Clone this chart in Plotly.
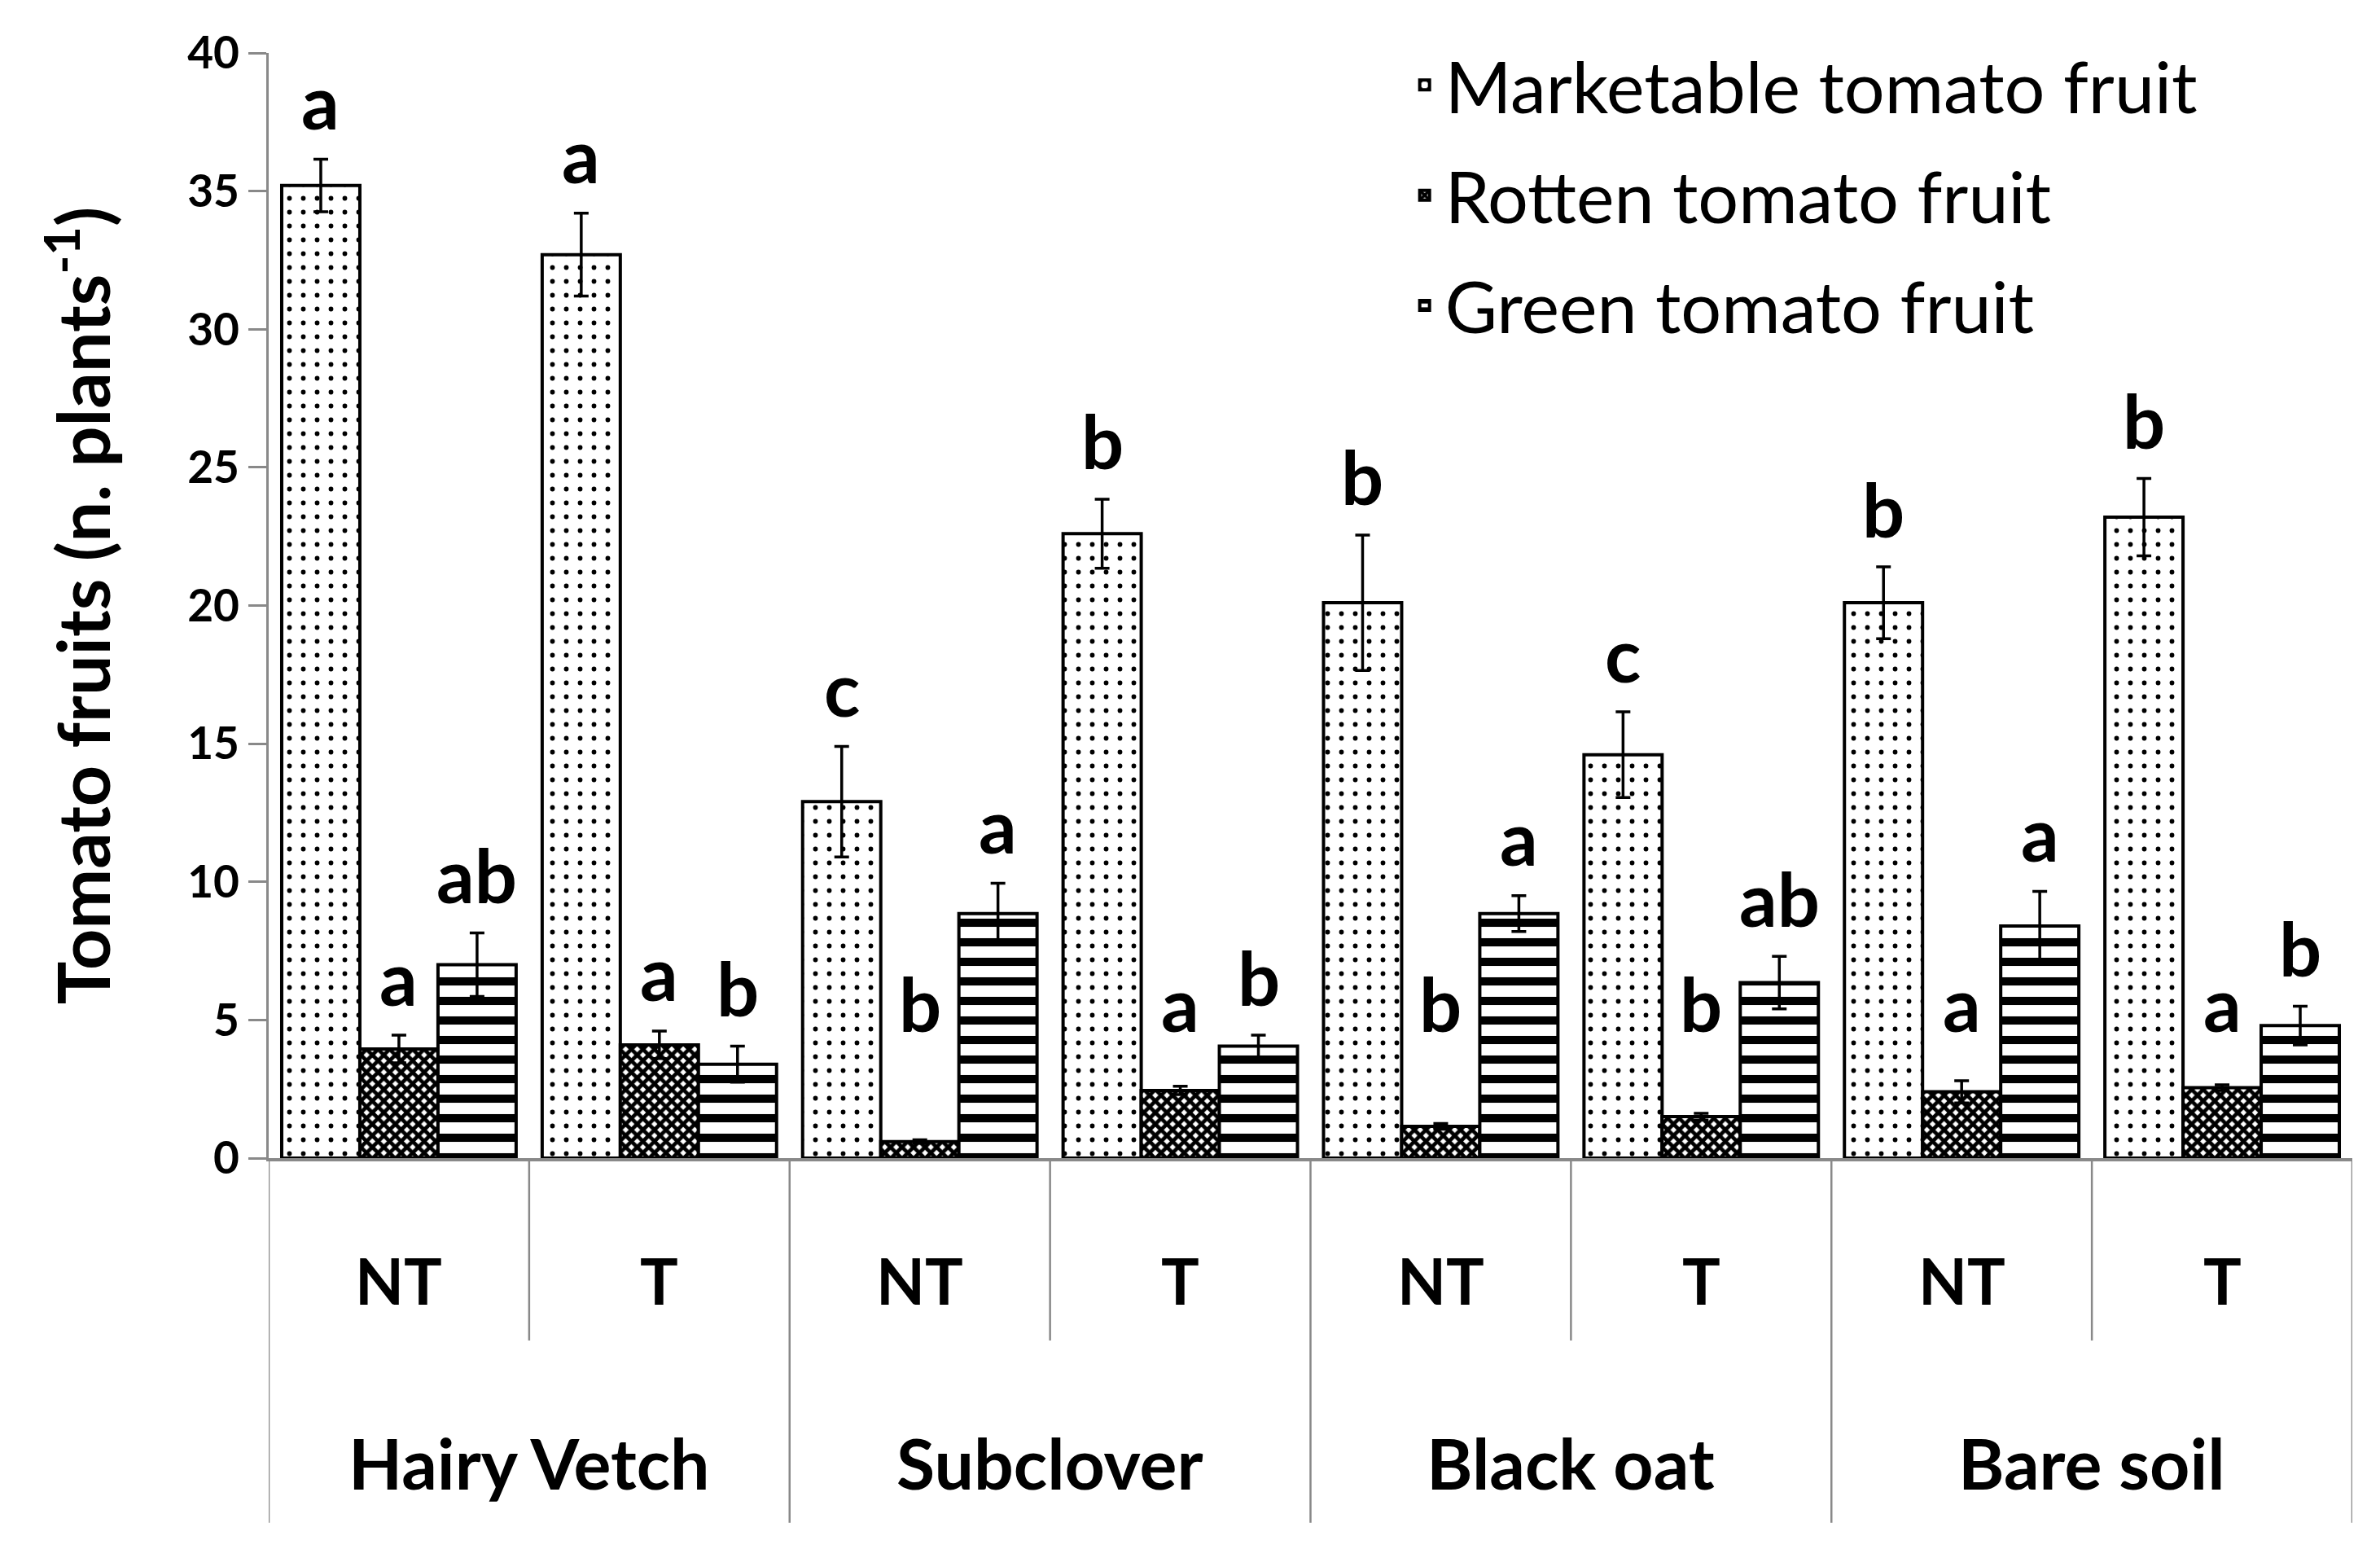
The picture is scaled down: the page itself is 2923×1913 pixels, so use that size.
import plotly.graph_objects as go

# ---------------- data ----------------
cover_crops = ["Hairy Vetch", "Subclover", "Black oat", "Bare soil"]
tillage = ["NT", "T"]
series_names = ["Marketable tomato fruit", "Rotten tomato fruit", "Green tomato fruit"]

marketable = [35.2, 32.7, 12.9, 22.6, 20.1, 14.6, 20.1, 23.2]
marketable_err = [0.95, 1.5, 2.0, 1.25, 2.45, 1.55, 1.3, 1.4]
rotten = [3.95, 4.1, 0.6, 2.45, 1.15, 1.5, 2.4, 2.55]
rotten_err = [0.5, 0.5, 0.06, 0.15, 0.1, 0.12, 0.4, 0.1]
green = [7.0, 3.4, 8.85, 4.05, 8.85, 6.35, 8.4, 4.8]
green_err = [1.15, 0.65, 1.1, 0.4, 0.65, 0.95, 1.25, 0.7]

marketable_letters = ["a", "a", "c", "b", "b", "c", "b", "b"]
rotten_letters = ["a", "a", "b", "a", "b", "b", "a", "a"]
green_letters = ["ab", "b", "a", "b", "a", "ab", "a", "b"]

y_ticks = [0, 5, 10, 15, 20, 25, 30, 35, 40]

# ---------------- build ----------------
categories = [f"{c} {t}" for c in cover_crops for t in tillage]
tick_text = [t for c in cover_crops for t in tillage]

FONT = "Lato"
GRAY = "#898989"
BARGAP = 0.1
N_SERIES = 3
bar_w = (1 - BARGAP) / N_SERIES  # width of one bar in category units

styles = [
    dict(shape=".", size=17, solidity=0.09),
    dict(shape="x", size=10, solidity=0.72),
    dict(shape="-", size=24, solidity=0.42),
]
values = [marketable, rotten, green]
errors = [marketable_err, rotten_err, green_err]
letters = [marketable_letters, rotten_letters, green_letters]

fig = go.Figure()
for i in range(N_SERIES):
    fig.add_trace(go.Bar(
        x=categories, y=values[i], name=series_names[i],
        legendgroup=series_names[i],
        marker=dict(color="white",
                    line=dict(color="black", width=4),
                    pattern=dict(fgcolor="black", bgcolor="white", fillmode="replace",
                                 **styles[i])),
        error_y=dict(type="data", array=errors[i], color="black", thickness=3.5, width=9),
    ))

annotations = []
# significance letters, centred over each bar
for s in range(N_SERIES):
    for k in range(len(categories)):
        top = max(values[s][k] + errors[s][k], 3.5)
        annotations.append(dict(
            x=k + (s - (N_SERIES - 1) / 2) * bar_w, y=top, xref="x", yref="y",
            text=letters[s][k], showarrow=False, yanchor="middle", yshift=72,
            font=dict(family=FONT, size=92, color="black", weight="bold"),
        ))
# inner labels NT/T
for k, t in enumerate(tick_text):
    annotations.append(dict(
        x=k, y=-0.1105, xref="x", yref="paper", text=t, showarrow=False,
        yanchor="middle", font=dict(family=FONT, size=78, color="black", weight="bold")))
# outer labels cover crops
for g, c in enumerate(cover_crops):
    annotations.append(dict(
        x=2 * g + 0.5, y=-0.275, xref="x", yref="paper", text=c, showarrow=False,
        yanchor="middle", font=dict(family=FONT, size=86, color="black", weight="bold")))

# divider lines
shapes = []
n = len(categories)
for j in range(n + 1):
    pos = j - 0.5
    long_line = (j % 2 == 0)
    shapes.append(dict(type="line", xref="x", yref="paper", x0=pos, x1=pos,
                       y0=0, y1=-0.33 if long_line else -0.165,
                       line=dict(color=GRAY, width=2.5)))

fig.update_layout(
    width=2923, height=1913,
    margin=dict(l=330, r=34, t=65, b=491, autoexpand=False),
    paper_bgcolor="white", plot_bgcolor="white",
    barmode="group", bargap=BARGAP, bargroupgap=0,
    showlegend=True,
    legend=dict(x=0.545, y=1.018, xanchor="left", yanchor="top",
                font=dict(family=FONT, size=88, color="black"),
                tracegroupgap=18, bgcolor="rgba(0,0,0,0)", itemwidth=40),
    annotations=annotations, shapes=shapes,
    font=dict(family=FONT, color="black"),
)
fig.update_xaxes(
    range=[-0.5, n - 0.5], showticklabels=False, ticks="",
    showline=True, linecolor=GRAY, linewidth=4, showgrid=False, zeroline=False,
)
fig.update_yaxes(
    range=[0, 40], tickvals=y_ticks, ticks="outside", ticklen=22, tickwidth=2.5,
    tickcolor=GRAY, showline=True, linecolor=GRAY, linewidth=3,
    showgrid=False, zeroline=False,
    tickfont=dict(family=FONT, size=55, color="black", weight="bold"),
    title=dict(text="Tomato fruits (n. plants<sup>-1</sup>)", standoff=66,
               font=dict(family=FONT, size=88, color="black", weight="bold")),
)

fig.write_html("out.html", config={"displayModeBar": False},
               post_script="document.body.style.margin='0';")
